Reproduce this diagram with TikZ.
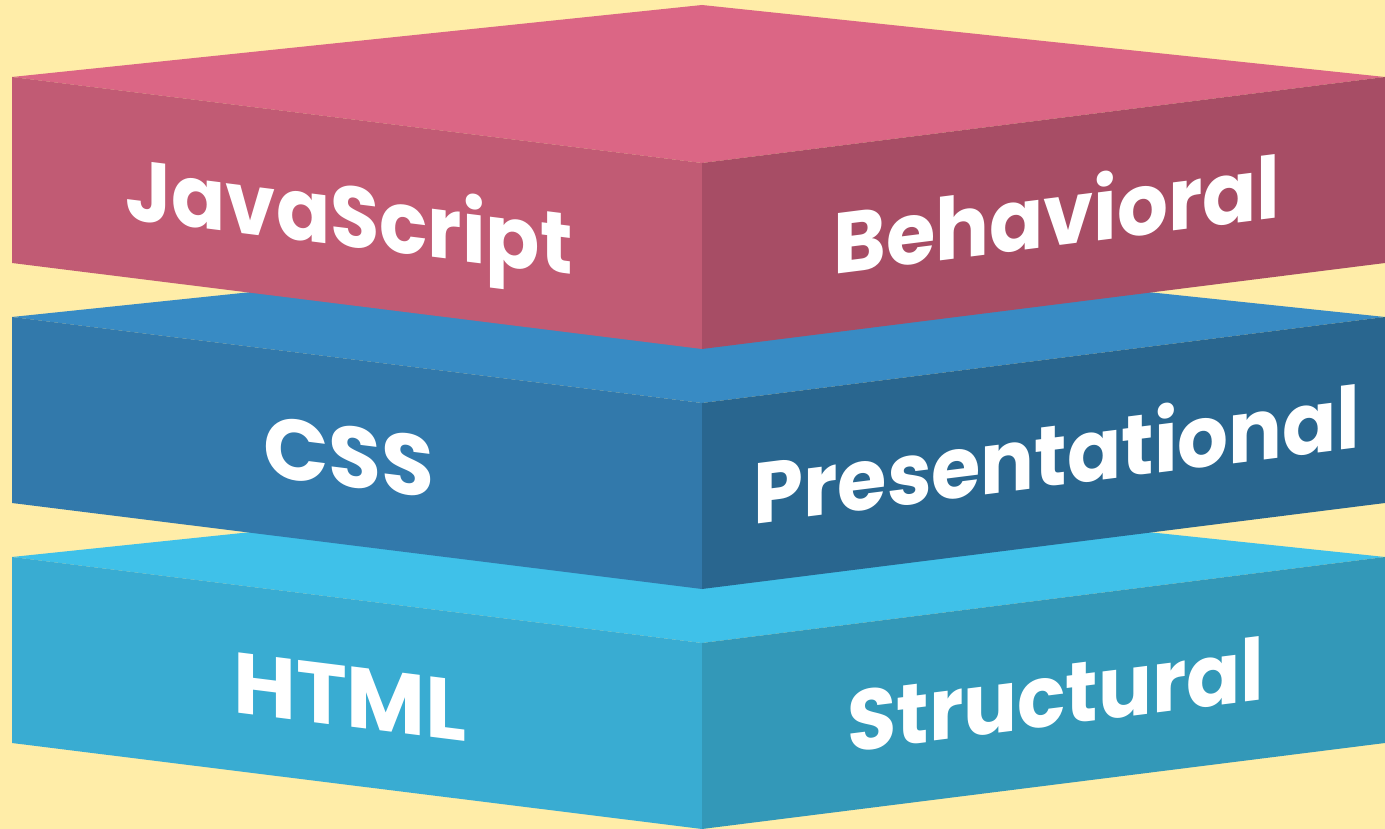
\documentclass[tikz,border=0pt]{standalone}
\usepackage{fontspec}
\newfontfamily\layerfont{Poppins}
\usepackage{tikz}
\definecolor{bgYellow}{HTML}{FFEDA8}
\definecolor{jsTop}{HTML}{DB6685}
\definecolor{jsLeft}{HTML}{C15B74}
\definecolor{jsRight}{HTML}{A74D65}
\definecolor{cssTop}{HTML}{388BC4}
\definecolor{cssLeft}{HTML}{3279AB}
\definecolor{cssRight}{HTML}{29668F}
\definecolor{htmlTop}{HTML}{3FC1E9}
\definecolor{htmlLeft}{HTML}{39ACD2}
\definecolor{htmlRight}{HTML}{3398B8}
\tikzset{
    layer label/.style={text=white, inner sep=0pt, anchor=base,
        font=\layerfont\bfseries\fontsize{86}{90}\selectfont},
    left label/.style={layer label, yslant=-0.125},
    right label/.style={layer label, yslant=0.126},
    narrow/.style={xscale=0.93},
}

\begin{document}
\begin{tikzpicture}[x=1pt,y=-1pt]
\useasboundingbox (0,0) rectangle (1385,829);
\clip (0,0) rectangle (1385,829);
\fill[bgYellow] (0,0) rectangle (1385,829);
% slabs, drawn from the bottom up
\foreach \off/\layer in {480/html,240/css,0/js}{
    \fill[\layer Top] (12,77+\off)--(702,5+\off)--(1385,77+\off)--(702,163+\off)--cycle;
    \fill[\layer Left] (12,77+\off)--(702,163+\off)--(702,349+\off)--(12,263+\off)--cycle;
    \fill[\layer Right] (702,163+\off)--(1385,77+\off)--(1385,263+\off)--(702,349+\off)--cycle;
}
\node[left label,narrow] (js) at (349,247) {JavaScript};
\node[right label,narrow] (behav) at (1057,246) {Behavioral};
\node[left label] (css) at (349,487) {CSS};
\node[right label,narrow] (present) at (1057,486) {Presentational};
\node[left label] (html) at (350,727) {HTML};
\node[right label,narrow] (struct) at (1056,726) {Structural};
\end{tikzpicture}
\end{document}
